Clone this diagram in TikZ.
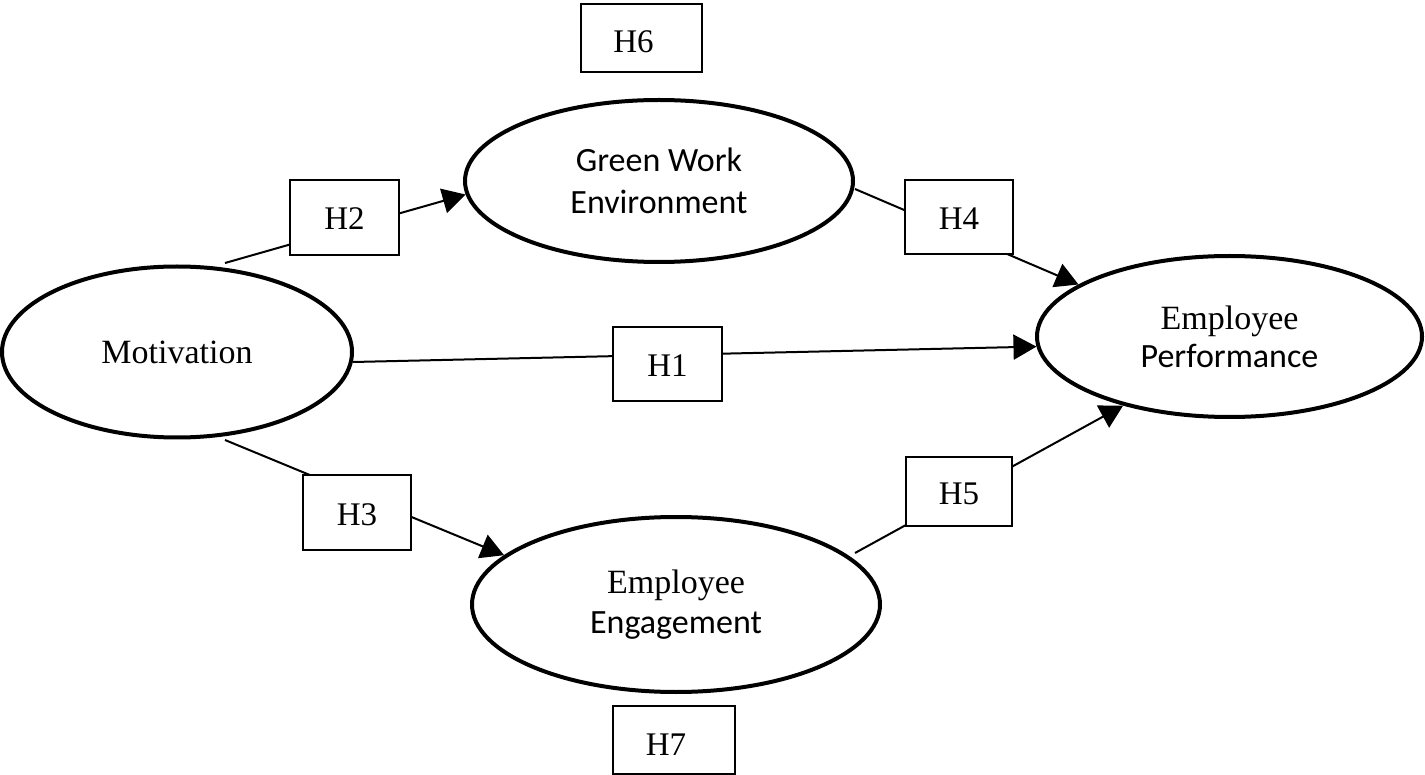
\documentclass[tikz,border=0pt]{standalone}
\usepackage{fontspec}
\setmainfont{Liberation Serif}
\newfontfamily\sansc{Carlito}
\usetikzlibrary{shapes.geometric,arrows.meta}
\begin{document}
\begin{tikzpicture}[x=1pt,y=-1pt,
  construct/.style={ellipse,draw,line width=4pt,inner sep=0pt,align=center},
  hyp/.style={rectangle,draw,line width=2.5pt,fill=white,inner sep=0pt,text height=25pt,text depth=0pt,font=\fontsize{33}{40}\selectfont},
  link/.style={line width=2pt,-{Triangle[length=23pt,width=25pt]}},
]
\useasboundingbox (0,0) rectangle (1425,775);
% constructs
\node[construct,minimum width=350pt,minimum height=171pt,font=\fontsize{34}{40}\selectfont] (mot) at (177,352) {Motivation};
\node[construct,minimum width=388pt,minimum height=162pt,font=\sansc\fontsize{34}{42}\selectfont] (gwe) at (659,181) {Green Work\\Environment};
\node[construct,minimum width=408pt,minimum height=175pt,font=\fontsize{34}{40}\selectfont] (ee) at (676,604.5) {Employee\\{\sansc Engagement}};
\node[construct,minimum width=385pt,minimum height=161pt,font=\fontsize{34}{38}\selectfont] (ep) at (1229.5,336.5) {Employee\\{\sansc Performance}};
% free line starts
\coordinate (s2) at (225,263);
\coordinate (s1) at (353,362);
\coordinate (s3) at (225,440);
\coordinate (s4) at (855,189);
\coordinate (s5) at (855,553);
% connectors
\draw[link] (s2) -- (gwe.184.8);
\draw[link] (s1) -- (ep.183.1);
\draw[link] (s3) -- (ee.164.3);
\draw[link] (s4) -- (ep.161.5);
\draw[link] (s5) -- (ep.213.2);
% hypothesis boxes
\node[hyp,text height=30pt,minimum width=121pt,minimum height=68pt] (h6) at (641.5,38) {H6\hspace*{16pt}};
\node[hyp,minimum width=109pt,minimum height=75pt] (h2) at (344.5,217.5) {H2};
\node[hyp,minimum width=108pt,minimum height=75pt] (h3) at (357,512.5) {H3};
\node[hyp,text height=30pt,minimum width=122pt,minimum height=68pt] (h7) at (674,740) {H7\hspace*{16pt}};
\node[hyp,minimum width=108pt,minimum height=74pt] (h4) at (959,217) {H4};
\node[hyp,minimum width=109pt,minimum height=74pt] (h1) at (667.5,364) {H1};
\node[hyp,minimum width=106pt,minimum height=69pt] (h5) at (959,491.5) {H5};
\end{tikzpicture}
\end{document}
